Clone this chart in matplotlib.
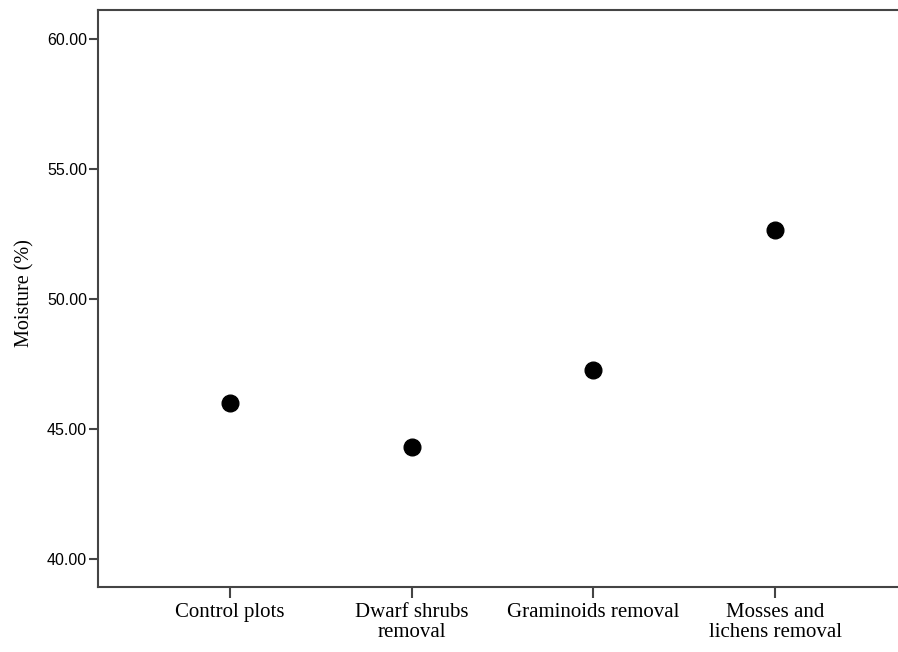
import matplotlib
matplotlib.use("Agg")
import matplotlib.pyplot as plt

categories = ["Control plots", "Dwarf shrubs\nremoval", "Graminoids removal", "Mosses and\nlichens removal"]
moisture = [46.01, 44.30, 47.28, 52.65]
yticks = [40, 45, 50, 55, 60]

W, H = 898, 652
fig = plt.figure(figsize=(W / 100, H / 100), dpi=100)
ax = fig.add_axes([98 / W, 1 - 587 / H, (898 - 98) / W, (587 - 10) / H])

x = list(range(len(categories)))
ax.plot(x, moisture, linestyle="none", marker="o", markersize=12, color="black")

ax.set_xlim(-0.727, 3.677)
ax.set_ylim(38.92, 61.12)
ax.set_yticks(yticks)
ax.set_yticklabels([f"{v:.2f}" for v in yticks], fontfamily="Liberation Sans", fontsize=11.5)
ax.set_xticks(x)
ax.set_xticklabels(categories, fontfamily="Liberation Serif", fontsize=15, linespacing=1.05)
ax.set_ylabel("Moisture (%)", fontfamily="Liberation Serif", fontsize=14.5)
ax.yaxis.set_label_coords(-(98 - 34) / 800, 0.51)

spine_color = "#444444"
for side in ["left", "bottom", "top"]:
    ax.spines[side].set_color(spine_color)
    ax.spines[side].set_linewidth(1.5)
ax.spines["right"].set_visible(False)
ax.tick_params(axis="y", length=6.5, width=1.5, color=spine_color, pad=1.5)
ax.tick_params(axis="x", length=8, width=1.5, color=spine_color, pad=3.5)

fig.savefig("out.png", dpi=100)
